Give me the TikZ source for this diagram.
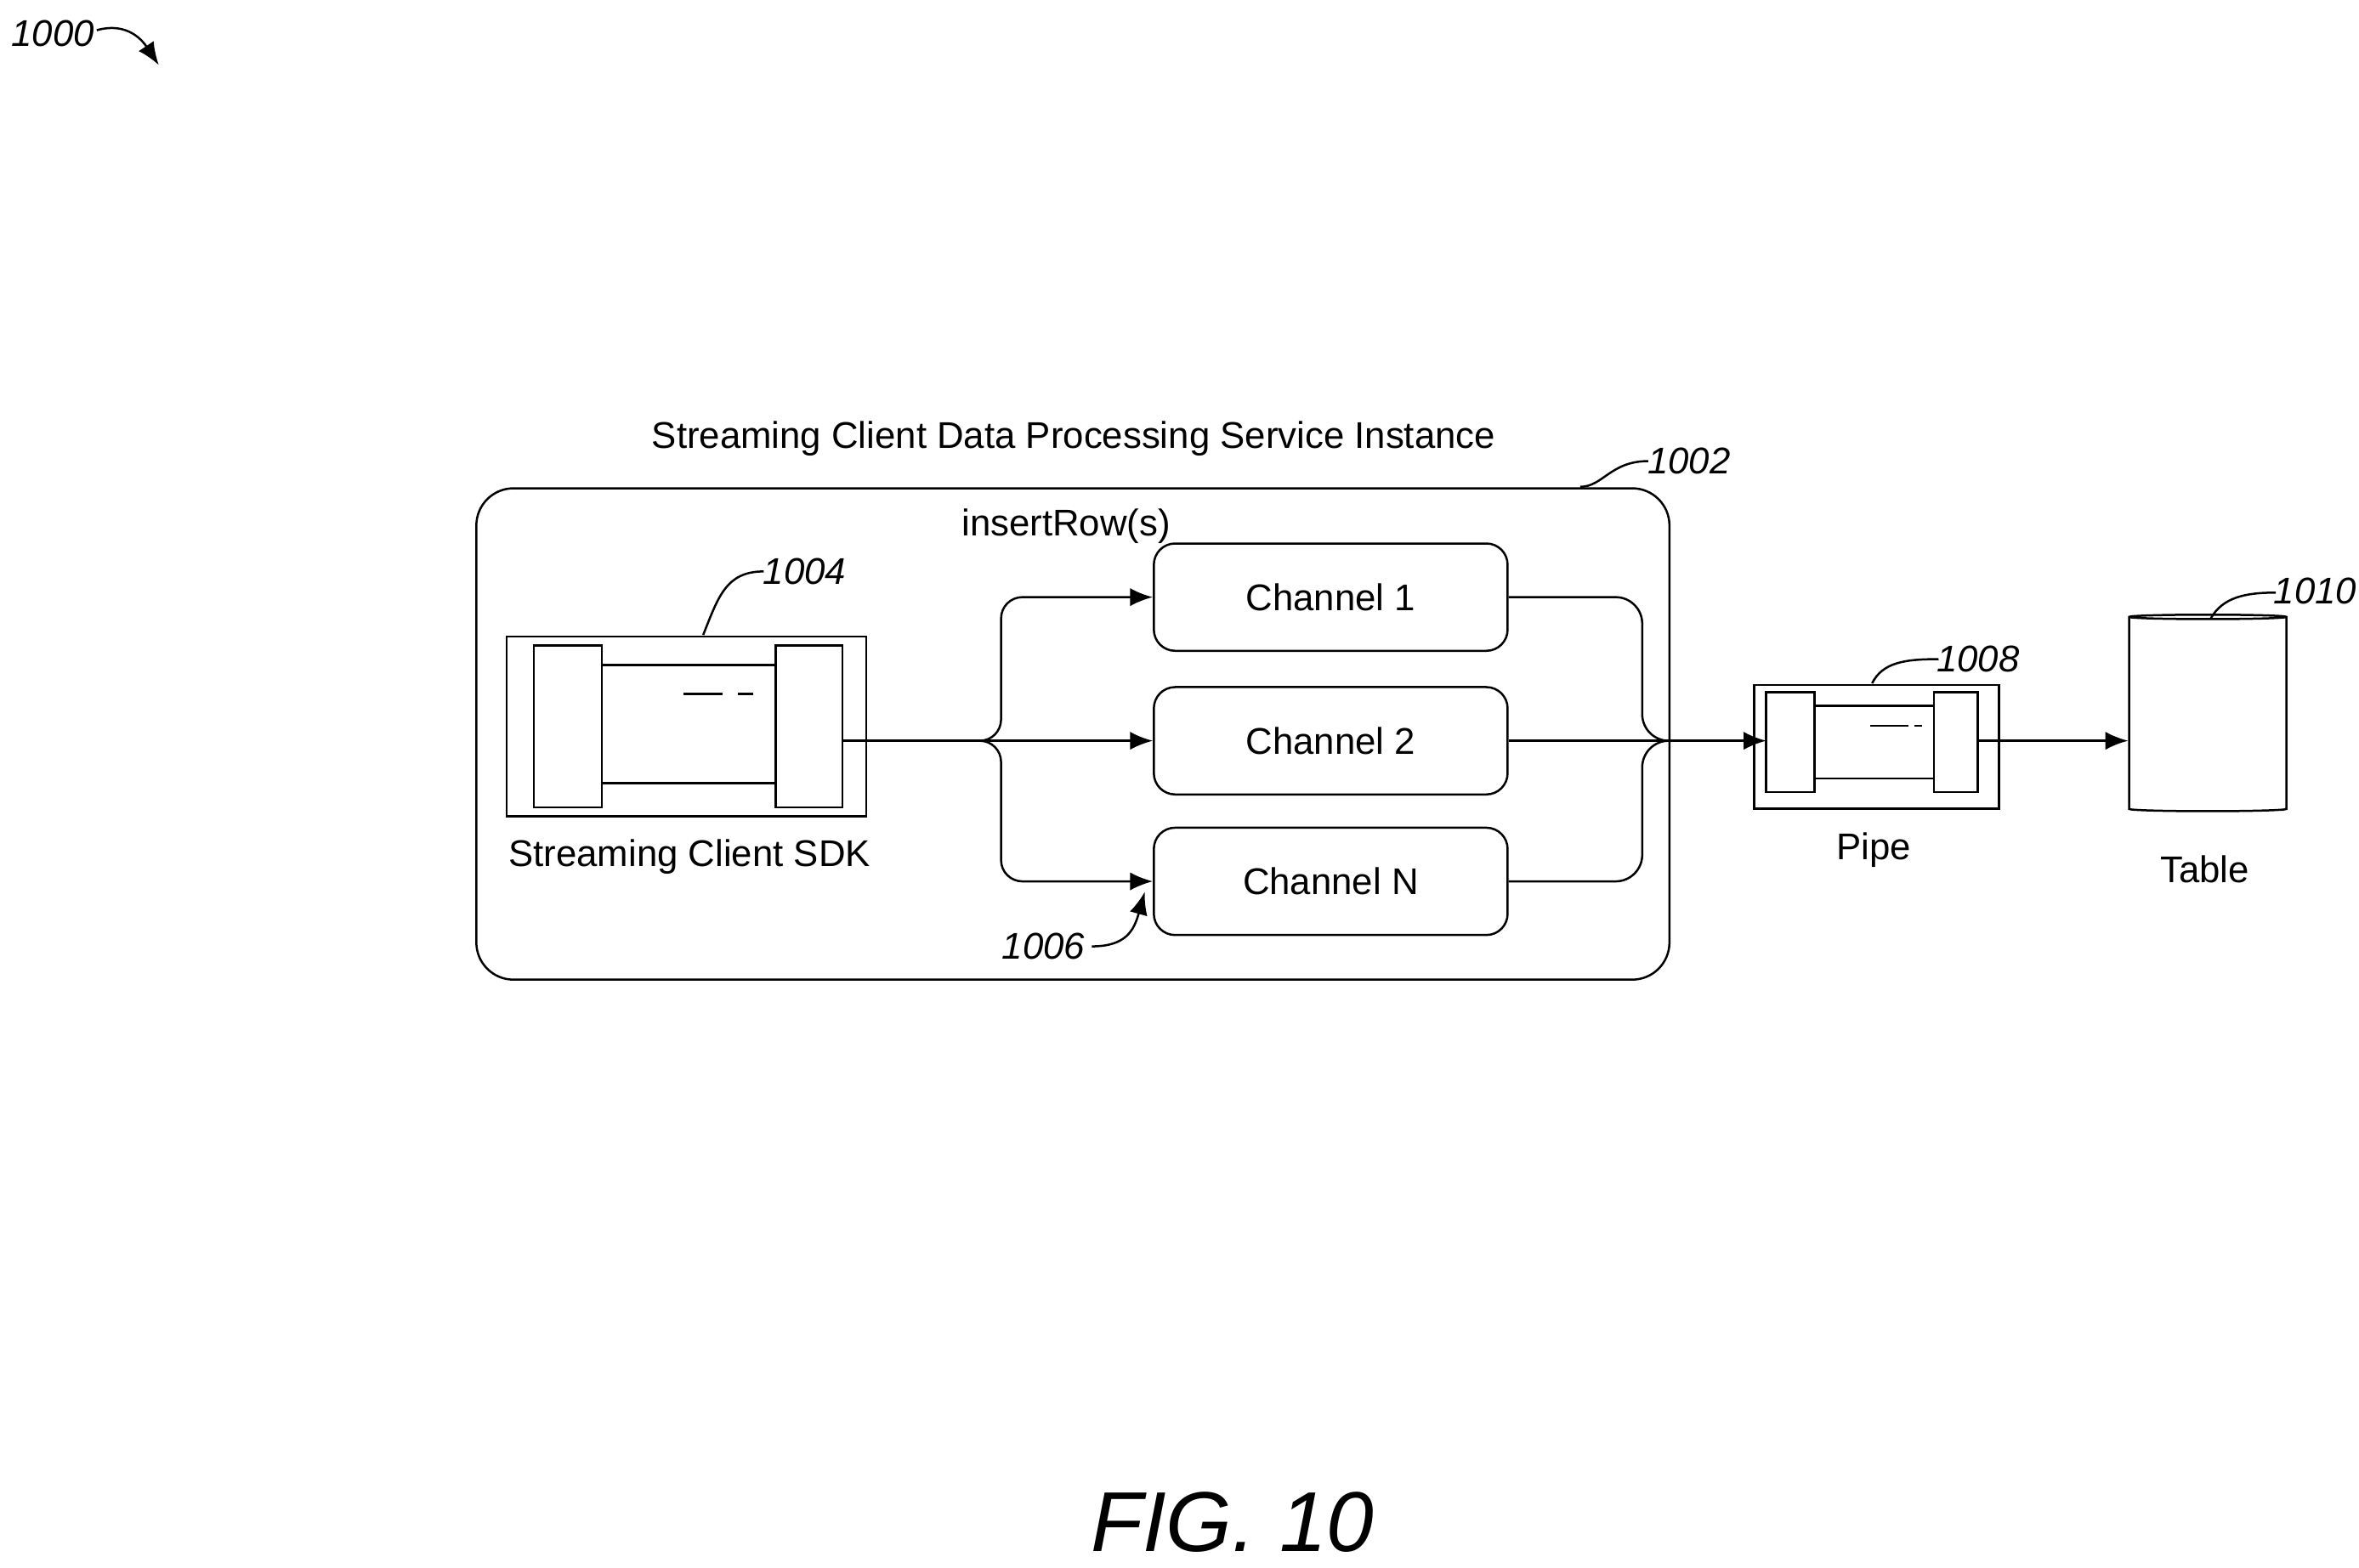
\documentclass[tikz,border=0pt]{standalone}
\usepackage{fontspec}
\setmainfont{Liberation Sans}
\usetikzlibrary{arrows.meta,shapes.geometric}

\tikzset{
  box/.style={draw, thick, rounded corners=8pt, minimum width=4.68cm, minimum height=1.42cm, font=\fontsize{14}{16}\selectfont},
  lbl/.style={font=\fontsize{14}{16}\selectfont},
  ref/.style={font=\fontsize{14}{16}\selectfont\itshape},
  flow/.style={thick, -{Latex[length=3mm,width=2.4mm]}},
  lead/.style={thick}
}

\begin{document}
\begin{tikzpicture}[x=0.02cm,y=-0.02cm]
\useasboundingbox (0,0) rectangle (1560,1037);

\node[ref] (r1000) at (35,22) {1000};
\draw[flow] (64,20) .. controls (85,14) and (95,28) .. (105,43);

\node[lbl] (title) at (710,290) {Streaming Client Data Processing Service Instance};
\draw[thick, rounded corners=14pt] (315,323) rectangle (1104,648);
\node[ref] (r1002) at (1117,305) {1002};
\draw[lead] (1045,322) .. controls (1060,322) and (1065,305) .. (1090,305);

% streaming client sdk
\node[draw, thick, minimum width=4.76cm, minimum height=2.38cm] (sdk) at (454,480.5) {};
\draw[thick] (353,427) rectangle (398,534);
\draw[thick] (513,427) rectangle (557,534);
\draw[thick] (398,440) -- (513,440) (398,518) -- (513,518);
\draw[thick] (452,459) -- (478,459) (488,459) -- (498,459);
\node[lbl] (sdklbl) at (456,567) {Streaming Client SDK};
\node[ref] (r1004) at (532,378) {1004};
\draw[lead] (465,420) .. controls (475,395) and (480,378) .. (505,378);

% channels
\node[box] (ch1) at (880,395) {Channel 1};
\node[box] (ch2) at (880,490) {Channel 2};
\node[box] (chN) at (880,583) {Channel N};
\node[lbl] (insert) at (705,348) {insertRow(s)};
\node[ref] (r1006) at (690,626) {1006};
\draw[flow] (722,626) .. controls (745,626) and (750,615) .. (757,590);

\coordinate (split) at (655,490);
\draw[thick] (557,490) -- (split);
\draw[flow, rounded corners=8pt] (split) -- (662,490) -- (662,395) -- (ch1.west);
\draw[flow] (split) -- (ch2.west);
\draw[flow, rounded corners=8pt] (split) -- (662,490) -- (662,583) -- (chN.west);

% pipe
\node[draw, thick, minimum width=3.24cm, minimum height=1.64cm] (pipe) at (1241,494) {};
\draw[thick] (1168,458) rectangle (1200,524);
\draw[thick] (1279,458) rectangle (1308,524);
\draw[thick] (1200,467) -- (1279,467) (1200,515) -- (1279,515);
\draw[thick] (1237,480) -- (1262,480) (1266,480) -- (1271,480);
\node[lbl] (pipelbl) at (1239,562) {Pipe};
\node[ref] (r1008) at (1308,436) {1008};
\draw[lead] (1238,452) .. controls (1245,438) and (1260,436) .. (1282,436);

\coordinate (merge) at (1100,490);
\draw[thick, rounded corners=10pt] (ch1.east) -- (1086,395) -- (1086,490) -- (merge);
\draw[thick] (ch2.east) -- (merge);
\draw[thick, rounded corners=10pt] (chN.east) -- (1086,583) -- (1086,490) -- (merge);
\draw[flow] (merge) -- (1168,490);

% table
\node[cylinder, draw, thick, shape border rotate=90, aspect=0.25, minimum width=2.08cm, minimum height=2.6cm] (table) at (1460,473) {};
\node[lbl] (tablelbl) at (1458,575) {Table};
\node[ref] (r1010) at (1531,391) {1010};
\draw[lead] (1462,409) .. controls (1470,395) and (1485,392) .. (1505,392);
\draw[flow] (1308,490) -- (table.west |- 0,490);

\node[font=\fontsize{32}{36}\selectfont\itshape] (fig) at (815,1007) {FIG. 10};
\end{tikzpicture}
\end{document}
